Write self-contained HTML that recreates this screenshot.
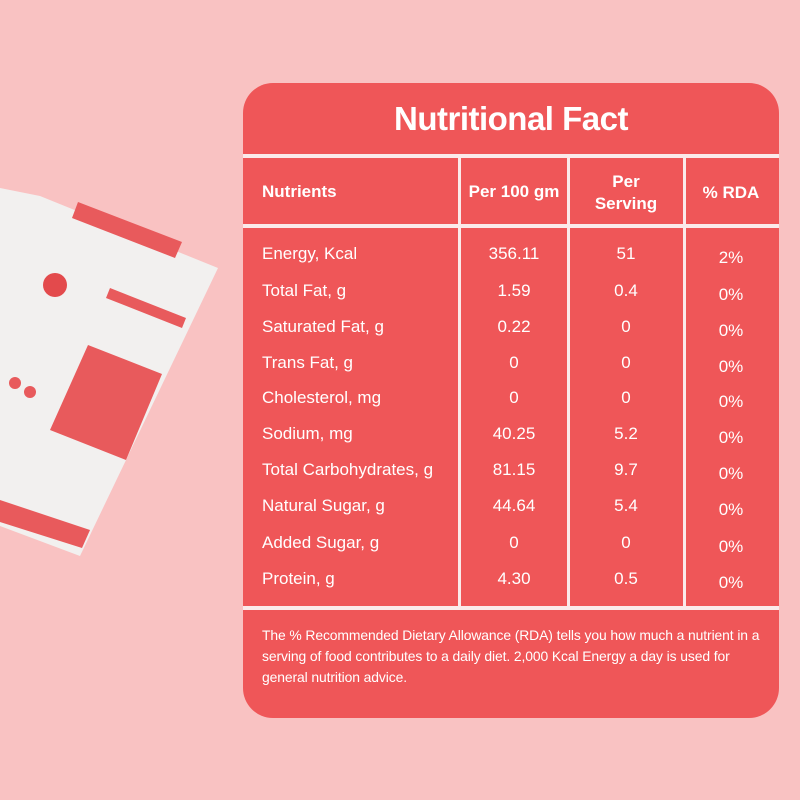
<!DOCTYPE html>
<html><head><meta charset="utf-8"><style>
*{margin:0;padding:0;box-sizing:border-box}
body{width:800px;height:800px;background:#f9c2c2;position:relative;overflow:hidden;font-family:"Liberation Sans",sans-serif;color:#fff}
.card{position:absolute;left:243px;top:83px;width:536px;height:635px;background:#ef5658;border-radius:30px}
.hl{position:absolute;left:243px;width:536px;height:4px;background:#fbeaea}
.vl{position:absolute;top:155px;width:3px;height:454px;background:#fbeaea}
.t{position:absolute;white-space:nowrap;font-size:17px}
.c{transform:translateX(-50%)}
.b{font-weight:bold}
</style></head><body>
<svg style="position:absolute;left:0;top:0" width="260" height="600">
<polygon points="0,188 40,196 218,268 80,556 0,526" fill="#f2f0ef"/>
<polygon points="78,202 182,242 175,258 72,218" fill="#e85a5c"/>
<polygon points="110,288 186,318 182,328 106,298" fill="#e85a5c"/>
<polygon points="88,345 162,374 126,460 50,430" fill="#e85a5c"/>
<polygon points="0,500 90,530 82,548 0,522" fill="#e85a5c"/>
<circle cx="55" cy="285" r="12" fill="#e34a4c"/>
<circle cx="15" cy="383" r="6" fill="#e85a5c"/><circle cx="30" cy="392" r="6" fill="#e85a5c"/>
</svg>
<div class="card"></div>
<div class="hl" style="top:154px"></div>
<div class="hl" style="top:224px"></div>
<div class="hl" style="top:606px"></div>
<div class="vl" style="left:458px"></div>
<div class="vl" style="left:567px"></div>
<div class="vl" style="left:683px"></div>
<div class="t b c" style="left:511px;top:100px;font-size:33px;letter-spacing:-0.5px">Nutritional Fact</div>
<div class="t b" style="left:262px;top:182px">Nutrients</div>
<div class="t b c" style="left:514px;top:182px">Per 100 gm</div>
<div class="t b c" style="left:626px;top:171px;text-align:center;line-height:22px">Per<br>Serving</div>
<div class="t b c" style="left:731px;top:183px">% RDA</div>
<div class="t" style="left:262px;top:244px">Energy, Kcal</div><div class="t c" style="left:514px;top:244px">356.11</div><div class="t c" style="left:626px;top:244px">51</div><div class="t c" style="left:731px;top:248px">2%</div>
<div class="t" style="left:262px;top:281px">Total Fat, g</div><div class="t c" style="left:514px;top:281px">1.59</div><div class="t c" style="left:626px;top:281px">0.4</div><div class="t c" style="left:731px;top:285px">0%</div>
<div class="t" style="left:262px;top:317px">Saturated Fat, g</div><div class="t c" style="left:514px;top:317px">0.22</div><div class="t c" style="left:626px;top:317px">0</div><div class="t c" style="left:731px;top:321px">0%</div>
<div class="t" style="left:262px;top:353px">Trans Fat, g</div><div class="t c" style="left:514px;top:353px">0</div><div class="t c" style="left:626px;top:353px">0</div><div class="t c" style="left:731px;top:357px">0%</div>
<div class="t" style="left:262px;top:388px">Cholesterol, mg</div><div class="t c" style="left:514px;top:388px">0</div><div class="t c" style="left:626px;top:388px">0</div><div class="t c" style="left:731px;top:392px">0%</div>
<div class="t" style="left:262px;top:424px">Sodium, mg</div><div class="t c" style="left:514px;top:424px">40.25</div><div class="t c" style="left:626px;top:424px">5.2</div><div class="t c" style="left:731px;top:428px">0%</div>
<div class="t" style="left:262px;top:460px">Total Carbohydrates, g</div><div class="t c" style="left:514px;top:460px">81.15</div><div class="t c" style="left:626px;top:460px">9.7</div><div class="t c" style="left:731px;top:464px">0%</div>
<div class="t" style="left:262px;top:496px">Natural Sugar, g</div><div class="t c" style="left:514px;top:496px">44.64</div><div class="t c" style="left:626px;top:496px">5.4</div><div class="t c" style="left:731px;top:500px">0%</div>
<div class="t" style="left:262px;top:533px">Added Sugar, g</div><div class="t c" style="left:514px;top:533px">0</div><div class="t c" style="left:626px;top:533px">0</div><div class="t c" style="left:731px;top:537px">0%</div>
<div class="t" style="left:262px;top:569px">Protein, g</div><div class="t c" style="left:514px;top:569px">4.30</div><div class="t c" style="left:626px;top:569px">0.5</div><div class="t c" style="left:731px;top:573px">0%</div>
<div class="t" style="left:262px;top:625px;font-size:13.9px;line-height:21px;letter-spacing:-0.1px">The % Recommended Dietary Allowance (RDA) tells you how much a nutrient in a<br>serving of food contributes to a daily diet. 2,000 Kcal Energy a day is used for<br>general nutrition advice.</div>
</body></html>
